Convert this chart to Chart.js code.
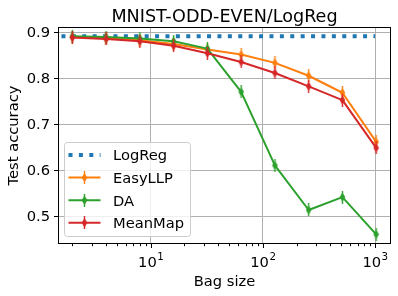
<!DOCTYPE html>
<html>
<head>
<meta charset="utf-8">
<script src="https://cdn.jsdelivr.net/npm/chart.js@4.4.1/dist/chart.umd.min.js"></script>
<style>
  html, body { margin: 0; padding: 0; background: #fff; }
  #wrap { width: 398px; height: 296px; }
</style>
</head>
<body>
<div id="wrap"><canvas id="grafico" width="398" height="296"></canvas></div>
<script>
/* ===================== DATOS ===================== */

const BAG_SIZES = [2, 4, 8, 16, 32, 64, 128, 256, 512, 1024];
const EASYLLP   = [0.891, 0.889, 0.884, 0.876, 0.864, 0.853, 0.835, 0.807, 0.770, 0.663];
const DA        = [0.893, 0.891, 0.888, 0.882, 0.866, 0.772, 0.612, 0.515, 0.543, 0.462];
const MEANMAP   = [0.890, 0.887, 0.882, 0.872, 0.856, 0.837, 0.813, 0.784, 0.754, 0.650];

const LOGREG_X = [1.6, 1000];
const LOGREG_Y = [0.893, 0.893];

const Y_TICKS = [0.5, 0.6, 0.7, 0.8, 0.9];
const X_MAJOR = [10, 100, 1000];
const X_MAJOR_EXP = ["1", "2", "3"];
const X_MINOR = [];
[1, 10, 100].forEach(d => { for (let k = 2; k <= 9; k++) X_MINOR.push(k * d); });

const TITULO = "MNIST-ODD-EVEN/LogReg";
const X_LABEL = "Bag size";
const Y_LABEL = "Test accuracy";

const FONT = "DejaVu Sans";
const C_BLUE = "#1f77b4", C_ORANGE = "#ff7f0e", C_GREEN = "#2ca02c", C_RED = "#d62728";

/* ===================== MARCADOR (thin diamond + barra) ===================== */

function thinDiamond(color) {
  const c = document.createElement("canvas");
  c.width = 9; c.height = 13;
  const g = c.getContext("2d");
  g.fillStyle = color;
  g.beginPath();
  g.moveTo(4.5, 1.8); g.lineTo(7.3, 6.5); g.lineTo(4.5, 11.2); g.lineTo(1.7, 6.5);
  g.closePath(); g.fill();
  g.fillRect(3.8, 0, 1.4, 13);
  return c;
}

const pts = ys => BAG_SIZES.map((x, i) => ({ x, y: ys[i] }));

function serie(label, ys, color, order) {
  return {
    label, data: pts(ys), borderColor: color, backgroundColor: color,
    borderWidth: 2, pointStyle: thinDiamond(color), pointRadius: 5,
    tension: 0, order
  };
}

const datasets = [
  {
    label: "LogReg",
    data: LOGREG_X.map((x, i) => ({ x, y: LOGREG_Y[i] })),
    borderColor: C_BLUE, backgroundColor: C_BLUE, borderWidth: 4,
    borderDash: [4, 6.4], borderCapStyle: "butt", pointRadius: 0, order: 4
  },
  serie("EasyLLP", EASYLLP, C_ORANGE, 3),
  serie("DA", DA, C_GREEN, 2),
  serie("MeanMap", MEANMAP, C_RED, 1)
];

/* ===================== PLUGIN: textos, ticks, marco, leyenda ===================== */

const extras = {
  id: "extras",
  afterDraw(chart) {
    const ctx = chart.ctx;
    const a = chart.chartArea;
    const xs = chart.scales.x;
    ctx.save();

    // titulo
    ctx.fillStyle = "#000";
    ctx.textAlign = "center";
    ctx.textBaseline = "alphabetic";
    ctx.font = `17.6px "${FONT}"`;
    ctx.fillText(TITULO, (a.left + a.right) / 2, 22);

    // ticks eje x
    ctx.strokeStyle = "#000";
    ctx.lineWidth = 1;
    const tick = (v, len) => {
      const px = Math.round(xs.getPixelForValue(v)) + 0.5;
      ctx.beginPath(); ctx.moveTo(px, a.bottom); ctx.lineTo(px, a.bottom + len); ctx.stroke();
    };
    X_MINOR.forEach(v => tick(v, 2.2));
    X_MAJOR.forEach(v => tick(v, 4));

    // etiquetas 10^n
    ctx.textAlign = "left";
    X_MAJOR.forEach((v, i) => {
      const px = xs.getPixelForValue(v);
      ctx.font = `14.7px "${FONT}"`;
      const w1 = ctx.measureText("10").width;
      ctx.font = `10.3px "${FONT}"`;
      const w2 = ctx.measureText(X_MAJOR_EXP[i]).width;
      const x0 = px - (w1 + w2) / 2;
      ctx.font = `14.7px "${FONT}"`;
      ctx.fillText("10", x0, 266.5);
      ctx.font = `10.3px "${FONT}"`;
      ctx.fillText(X_MAJOR_EXP[i], x0 + w1 + 0.5, 260);
    });

    // titulos de ejes
    ctx.font = `14.7px "${FONT}"`;
    ctx.textAlign = "center";
    ctx.fillText(X_LABEL, (a.left + a.right) / 2, 286);
    ctx.save();
    ctx.translate(18, (a.top + a.bottom) / 2);
    ctx.rotate(-Math.PI / 2);
    ctx.fillText(Y_LABEL, 0, 0);
    ctx.restore();

    // marco
    ctx.strokeStyle = "#000";
    ctx.lineWidth = 1;
    ctx.strokeRect(a.left + 0.5, a.top + 0.5, a.right - a.left - 1, a.bottom - a.top - 1);

    // leyenda
    const bx = 64.5, by = 142.5, bw = 126, bh = 94, r = 3;
    ctx.beginPath();
    ctx.moveTo(bx + r, by);
    ctx.arcTo(bx + bw, by, bx + bw, by + bh, r);
    ctx.arcTo(bx + bw, by + bh, bx, by + bh, r);
    ctx.arcTo(bx, by + bh, bx, by, r);
    ctx.arcTo(bx, by, bx + bw, by, r);
    ctx.closePath();
    ctx.fillStyle = "rgba(255,255,255,0.8)";
    ctx.fill();
    ctx.strokeStyle = "#cccccc";
    ctx.stroke();

    datasets.forEach((ds, i) => {
      const y = 155 + i * 22.6;
      ctx.strokeStyle = ds.borderColor;
      ctx.lineWidth = ds.borderWidth;
      ctx.lineCap = ds.borderCapStyle || "butt";
      ctx.setLineDash(ds.borderDash || []);
      ctx.beginPath(); ctx.moveTo(68.5, y); ctx.lineTo(100.5, y); ctx.stroke();
      ctx.setLineDash([]);
      if (ds.pointStyle instanceof HTMLCanvasElement) {
        const im = ds.pointStyle;
        ctx.drawImage(im, 84.5 - im.width / 2, y - im.height / 2);
      }
      ctx.fillStyle = "#000";
      ctx.textAlign = "left";
      ctx.font = `14.7px "${FONT}"`;
      ctx.fillText(ds.label, 113, y + 5.4);
    });

    ctx.restore();
  }
};

/* ===================== GRAFICO ===================== */

new Chart(document.getElementById("grafico"), {
  type: "line",
  data: { datasets },
  options: {
    responsive: false,
    animation: false,
    devicePixelRatio: 1,
    layout: { padding: { top: 27, right: 6, bottom: 0, left: 0 } },
    plugins: { legend: { display: false }, tooltip: { enabled: false }, title: { display: false } },
    elements: { line: { borderJoinStyle: "round" } },
    scales: {
      x: {
        type: "logarithmic",
        min: 1.49, max: 1388,
        afterBuildTicks: s => { s.ticks = [...X_MINOR, ...X_MAJOR].map(value => ({ value })); },
        afterFit: s => { s.height = 52; },
        ticks: { display: false },
        border: { display: false },
        grid: {
          drawTicks: false,
          lineWidth: 1,
          color: c => (c.tick && X_MAJOR.includes(c.tick.value)) ? "#b0b0b0" : "rgba(0,0,0,0)"
        }
      },
      y: {
        type: "linear",
        min: 0.441, max: 0.913,
        afterBuildTicks: s => { s.ticks = Y_TICKS.map(value => ({ value })); },
        afterFit: s => { s.width = 58; },
        border: { display: false },
        grid: { color: "#b0b0b0", lineWidth: 1, tickColor: "#000", tickLength: 4, tickWidth: 1 },
        ticks: {
          color: "#000", padding: 4,
          font: { family: FONT, size: 14.7 },
          callback: v => Number(v).toFixed(1)
        }
      }
    }
  },
  plugins: [extras]
});
</script>
</body>
</html>
